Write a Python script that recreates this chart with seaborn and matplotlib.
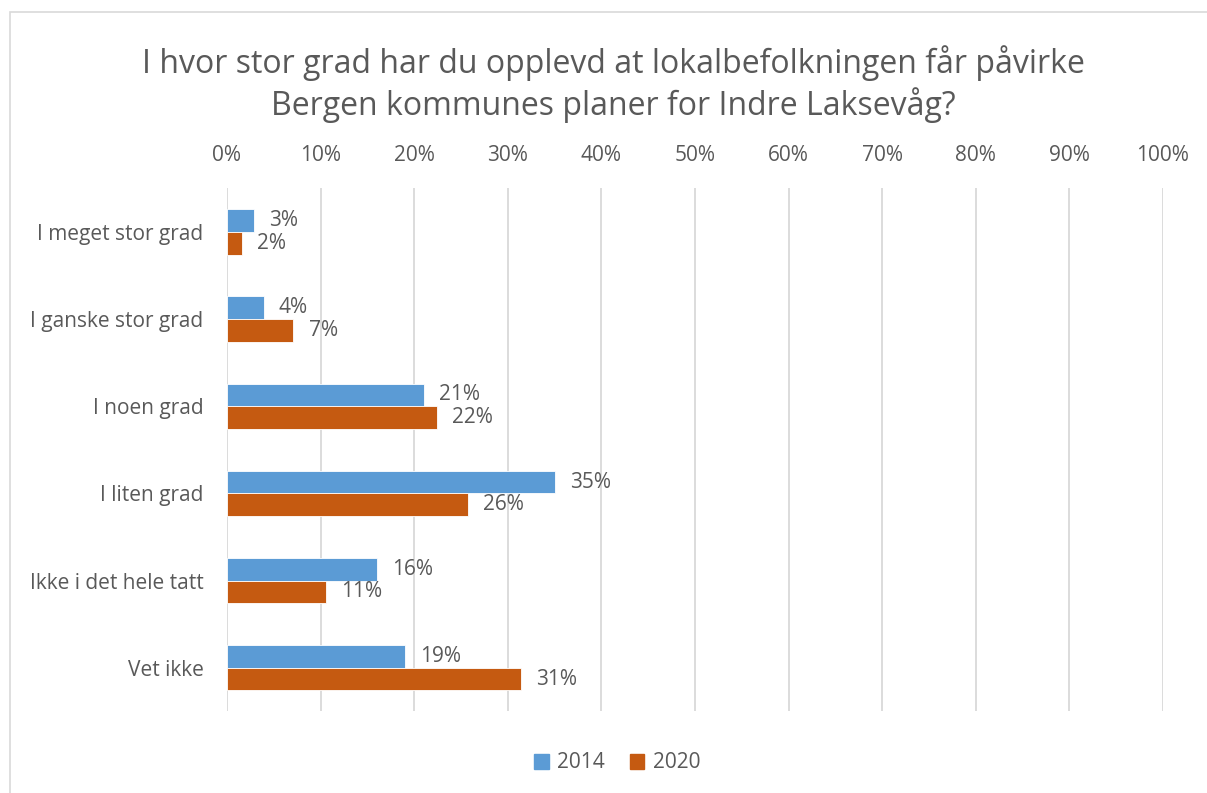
import pandas as pd
import matplotlib.pyplot as plt
import matplotlib.patches as mpatches
import seaborn as sns

categories = ["I meget stor grad", "I ganske stor grad", "I noen grad",
              "I liten grad", "Ikke i det hele tatt", "Vet ikke"]
values_2014 = [2.9, 3.9, 21.0, 35.0, 16.0, 19.0]
values_2020 = [1.6, 7.1, 22.4, 25.7, 10.6, 31.4]
years = ["2014", "2020"]
xticks = list(range(0, 101, 10))
title = "I hvor stor grad har du opplevd at lokalbefolkningen får påvirke\nBergen kommunes planer for Indre Laksevåg?"

df = pd.DataFrame({
    "kategori": categories * 2,
    "andel": values_2014 + values_2020,
    "år": [years[0]] * len(categories) + [years[1]] * len(categories),
})

sns.set_style("white")
plt.rcParams["font.family"] = ["Open Sans", "DejaVu Sans"]
text_col = "#595959"
colors = {"2014": "#5B9BD5", "2020": "#C55A11"}

fig = plt.figure(figsize=(12.07, 7.93), dpi=100)
# chart frame (top/left edges visible in the reference)
fig.patches.append(mpatches.Rectangle((10 / 1207, -0.1), 1.2, 1 - 12 / 793 + 0.1,
                                      transform=fig.transFigure, fill=False,
                                      edgecolor="#D9D9D9", linewidth=1.2))
ax = fig.add_axes([227 / 1207, 1 - 711.3 / 793, 936 / 1207, 522.9 / 793])

sns.barplot(data=df, y="kategori", x="andel", hue="år", orient="h",
            palette=colors, saturation=1, width=0.52, gap=0, ax=ax, legend=False,
            edgecolor="white", linewidth=0.6)

for cont in ax.containers:
    ax.bar_label(cont, labels=[f"{v:.0f}%" for v in cont.datavalues],
                 padding=11, fontsize=15, color=text_col)

ax.set_xlim(0, 100)
ax.set_ylim(len(categories) - 0.5, -0.5)
ax.set_xticks(xticks)
ax.set_xticklabels([f"{t}%" for t in xticks])
ax.xaxis.tick_top()
ax.tick_params(axis="x", length=0, pad=16, labelsize=15, labelcolor=text_col)
ax.tick_params(axis="y", length=0, pad=17, labelsize=15, labelcolor=text_col)
ax.set_xlabel("")
ax.set_ylabel("")
ax.grid(axis="x", color="#D9D9D9", linewidth=1.3)
ax.set_axisbelow(True)
for s in ax.spines.values():
    s.set_visible(False)

fig.text(613 / 1207, 1 - 84 / 793, title, ha="center", va="center",
         fontsize=23, color=text_col, linespacing=1.2)

handles = [mpatches.Patch(color=colors[y], label=y) for y in years]
fig.legend(handles=handles, loc="center", bbox_to_anchor=(617 / 1207, 1 - 763 / 793),
           ncol=2, frameon=False, fontsize=15, labelcolor=text_col,
           handlelength=0.7, handleheight=0.7, handletextpad=0.4, columnspacing=1.2)

fig.savefig("out.png", dpi=100)
